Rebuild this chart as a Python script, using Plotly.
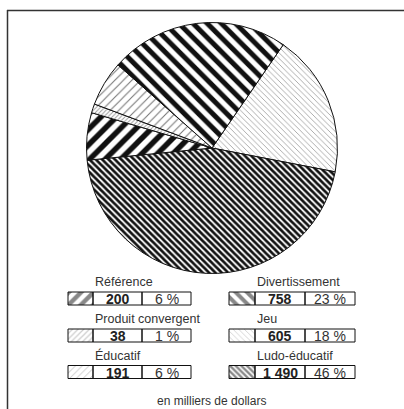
import plotly.graph_objects as go

# Software sales by category (thousands of dollars)
categories = ["Jeu", "Ludo-éducatif", "Référence", "Produit convergent", "Éducatif", "Divertissement"]
values = [605, 1490, 200, 38, 191, 758]
percents = [18, 46, 6, 1, 6, 23]
unit_label = "en milliers de dollars"

# Legend arrangement: two columns of three entries
left_column = ["Référence", "Produit convergent", "Éducatif"]
right_column = ["Divertissement", "Jeu", "Ludo-éducatif"]

# Hatch fill for each category
hatches = {
    "Jeu": dict(shape="\\", size=4, solidity=0.2, fgcolor="#9a9a9a", bgcolor="white"),
    "Ludo-éducatif": dict(shape="\\", size=4.5, solidity=0.6, fgcolor="#111111", bgcolor="white"),
    "Référence": dict(shape="/", size=11, solidity=0.5, fgcolor="#111111", bgcolor="white"),
    "Produit convergent": dict(shape="/", size=3, solidity=0.3, fgcolor="#999999", bgcolor="white"),
    "Éducatif": dict(shape="/", size=6, solidity=0.18, fgcolor="#777777", bgcolor="white"),
    "Divertissement": dict(shape="\\", size=10, solidity=0.5, fgcolor="#111111", bgcolor="white"),
}

W, H = 404, 409
FONT = "Liberation Sans, Arial, Helvetica, sans-serif"
INK = "#222222"

fig = go.Figure()

# Pie
cx, cy, r = 212.0, 148.0, 125.5
fig.add_trace(go.Pie(
    labels=categories,
    values=values,
    sort=False,
    direction="clockwise",
    rotation=34.6,
    textinfo="none",
    hoverinfo="label+value+percent",
    showlegend=False,
    marker=dict(
        colors=["white"] * len(categories),
        pattern=dict(
            shape=[hatches[c]["shape"] for c in categories],
            size=[hatches[c]["size"] for c in categories],
            solidity=[hatches[c]["solidity"] for c in categories],
            fgcolor=[hatches[c]["fgcolor"] for c in categories],
            bgcolor=[hatches[c]["bgcolor"] for c in categories],
        ),
        line=dict(color="#111111", width=1),
    ),
    domain=dict(x=[(cx - r) / W, (cx + r) / W], y=[1 - (cy + r) / H, 1 - (cy - r) / H]),
))

# Legend table geometry (pixel space of the page)
col_edges = {
    "left": [68, 93, 142, 191],
    "right": [229, 255, 305, 355],
}
row_centers = [298.5, 335.5, 372.0]
box_h = 13

shapes = []
annotations = []

def fmt_value(v):
    return f"{v:,}".replace(",", " ")

for side, names in (("left", left_column), ("right", right_column)):
    x0, x1, x2, x3 = col_edges[side]
    for name, yc in zip(names, row_centers):
        i = categories.index(name)
        y0, y1 = yc - box_h / 2, yc + box_h / 2
        h = hatches[name]
        # hatched swatch
        fig.add_trace(go.Scatter(
            x=[x0, x1, x1, x0, x0], y=[y0, y0, y1, y1, y0],
            mode="lines", fill="toself", line=dict(width=0),
            fillcolor="white",
            fillpattern=dict(shape=h["shape"], size=max(4, h["size"] * 0.8),
                             solidity=h["solidity"], fgcolor=h["fgcolor"], bgcolor=h["bgcolor"]),
            hoverinfo="skip", showlegend=False, xaxis="x", yaxis="y",
        ))
        # cell outlines
        for a, b in ((x0, x1), (x1, x2), (x2, x3)):
            shapes.append(dict(type="rect", xref="x", yref="y", x0=a, x1=b, y0=y0, y1=y1,
                               line=dict(color="#111111", width=1), fillcolor="rgba(0,0,0,0)"))
        # category label
        annotations.append(dict(x=x1, y=yc - 16.5, xref="x", yref="y", text=name,
                                showarrow=False, xanchor="left", yanchor="middle",
                                font=dict(family=FONT, size=12.5, color="#333333")))
        # value and share
        annotations.append(dict(x=(x1 + x2) / 2, y=yc + 0.5, xref="x", yref="y",
                                text=f"<b>{fmt_value(values[i])}</b>",
                                showarrow=False, xanchor="center", yanchor="middle",
                                font=dict(family=FONT, size=14, color=INK)))
        annotations.append(dict(x=(x2 + x3) / 2, y=yc + 0.5, xref="x", yref="y",
                                text=f"{percents[i]} %",
                                showarrow=False, xanchor="center", yanchor="middle",
                                font=dict(family=FONT, size=14, color="#333333")))

annotations.append(dict(x=211, y=401, xref="x", yref="y", text=unit_label, showarrow=False,
                        xanchor="center", yanchor="middle",
                        font=dict(family=FONT, size=12, color="#333333")))

# Frame: top rule and left rule
shapes.append(dict(type="line", xref="x", yref="y", x0=7, x1=W, y0=10.5, y1=10.5,
                   line=dict(color="#333333", width=1.5)))
shapes.append(dict(type="line", xref="x", yref="y", x0=7.5, x1=7.5, y0=10, y1=H,
                   line=dict(color="#333333", width=1.5)))

fig.update_layout(
    width=W, height=H,
    margin=dict(l=0, r=0, t=0, b=0),
    paper_bgcolor="white", plot_bgcolor="rgba(0,0,0,0)",
    xaxis=dict(range=[0, W], visible=False, fixedrange=True, domain=[0, 1]),
    yaxis=dict(range=[H, 0], visible=False, fixedrange=True, domain=[0, 1]),
    shapes=shapes,
    annotations=annotations,
    showlegend=False,
)

fig.write_html("out.html")
